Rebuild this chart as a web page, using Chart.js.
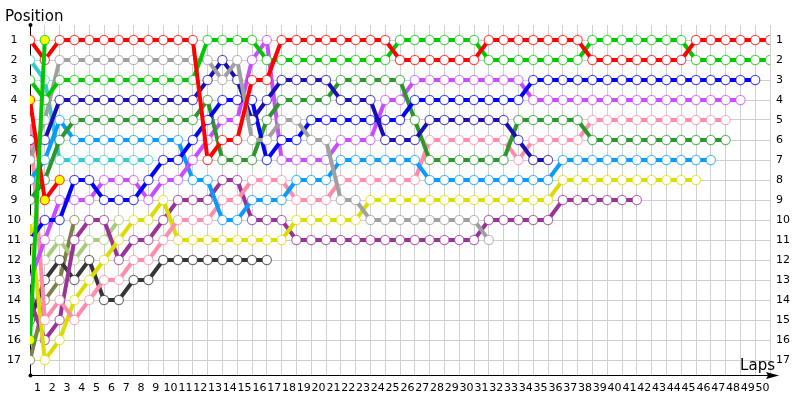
<!DOCTYPE html>
<html>
<head>
<meta charset="utf-8">
<script src="https://cdn.jsdelivr.net/npm/chart.js@4/dist/chart.umd.min.js"></script>
<style>
  html, body { margin:0; padding:0; background:#fff; }
  #wrap { width:800px; height:400px; }
</style>
</head>
<body>
<div id="wrap"><canvas id="chartLaps"></canvas></div>
<script>
const LAPS = [0,1,2,3,4,5,6,7,8,9,10,11,12,13,14,15,16,17,18,19,20,21,22,23,24,25,
  26,27,28,29,30,31,32,33,34,35,36,37,38,39,40,41,42,43,44,45,46,47,48,49,50]
const LAP_TICKS = ['1','2','3','4','5','6','7','8','9','10','11','12','13','14','15','16','17',
  '18','19','20','21','22','23','24','25','26','27','28','29','30','31','32','33','34','35','36',
  '37','38','39','40','41','42','43','44','45','46','47','48','49','50']
const POSITIONS = [1,2,3,4,5,6,7,8,9,10,11,12,13,14,15,16,17]

// position per lap (lap 0 = grid), cut off when the car retires
const RED     = [1,2,1,1,1,1,1,1,1,1, 1,1,7,6,6,3,3,1,1,1, 1,1,1,1,1,2,2,2,2,2, 2,1,1,1,1,1,1,1,2,2, 2,2,2,2,2,1,1,1,1,1, 1]
const GREEN   = [3,4,3,3,3,3,3,3,3,3, 3,3,1,1,1,1,2,2,2,2, 2,2,2,2,2,1,1,1,1,1, 1,2,2,2,2,2,2,2,1,1, 1,1,1,1,1,2,2,2,2,2, 2]
const GRAY    = [7,5,2,2,2,2,2,2,2,2, 2,2,2,3,2,6,6,5,5,6, 6,9,9,10,10,10,10,10,10,10, 10,11]
const NAVY    = [6,6,4,4,4,4,4,4,4,4, 4,4,3,2,3,5,4,3,3,3, 3,4,4,4,6,6,6,5,5,5, 5,5,5,6,7,7]
const DKGREEN = [9,8,6,5,5,5,5,5,5,5, 5,5,4,7,7,7,5,4,4,4, 4,3,3,3,3,3,5,7,7,7, 7,7,7,5,5,5,5,5,6,6, 6,6,6,6,6,6,6,6]
const AZURE   = [8,7,5,6,6,6,6,6,6,6, 6,8,8,10,10,9,9,9,8,8, 8,7,7,7,7,7,7,8,8,8, 8,8,8,8,8,8,7,7,7,7, 7,7,7,7,7,7,7]
const TEAL    = [2,3,7,7,7,7,7,7,7]
const BLUE    = [11,10,10,8,8,9,9,9,8,7, 7,6,5,4,4,4,7,6,6,5, 5,5,5,5,5,5,4,4,4,4, 4,4,4,4,3,3,3,3,3,3, 3,3,3,3,3,3,3,3,3,3]
const VIOLET  = [13,11,9,9,9,8,8,8,9,8, 8,7,6,5,5,2,1,7,7,7, 7,6,6,6,4,4,3,3,3,3, 3,3,3,3,4,4,4,4,4,4, 4,4,4,4,4,4,4,4,4]
const YELLOW  = [10,17,16,14,13,12,11,10,10,9, 11,11,11,11,11,11,11,11,10,10, 10,10,10,9,9,9,9,9,9,9, 9,9,9,9,9,9,8,8,8,8, 8,8,8,8,8,8]
const PURPLE  = [14,16,15,11,10,10,12,11,11,10, 9,9,9,8,8,10,10,10,11,11, 11,11,11,11,11,11,11,11,11,11, 11,10,10,10,10,10,9,9,9,9, 9,9]
const PINK    = [5,15,14,15,14,13,13,12,12,11, 10,10,10,9,9,8,8,8,9,9, 9,8,8,8,8,8,8,6,6,6, 6,6,6,7,6,6,6,6,5,5, 5,5,5,5,5,5,5,5]
const LTGREEN = [12,12,11,12,11,11,10]
const DKGRAY  = [15,13,12,13,12,14,14,13,13,12, 12,12,12,12,12,12,12]
const OLIVE   = [17,14,13,10]
const RED2    = [4,9,8]
const GREEN2  = [16,1]

// laps where the marker is filled yellow
const YELLOW_MARKS = { red2:[0,1,2], green2:[0,1] }

const FONT = '"DejaVu Sans", Verdana, sans-serif'

const DRIVERS = [
  { key:'green2',  data:GREEN2,  color:'#00c800' },
  { key:'red2',    data:RED2,    color:'#ff0000' },
  { key:'red',     data:RED,     color:'#ff0000' },
  { key:'green',   data:GREEN,   color:'#00c800' },
  { key:'gray',    data:GRAY,    color:'#a0a0a0' },
  { key:'navy',    data:NAVY,    color:'#1a0fb4' },
  { key:'blue',    data:BLUE,    color:'#0000ff' },
  { key:'dkgreen', data:DKGREEN, color:'#2a982a' },
  { key:'violet',  data:VIOLET,  color:'#c94cff' },
  { key:'azure',   data:AZURE,   color:'#0a9bff' },
  { key:'teal',    data:TEAL,    color:'#33cccc' },
  { key:'pink',    data:PINK,    color:'#ff8caa' },
  { key:'yellow',  data:YELLOW,  color:'#dcdc00' },
  { key:'purple',  data:PURPLE,  color:'#993399' },
  { key:'ltgreen', data:LTGREEN, color:'#a8cc78' },
  { key:'dkgray',  data:DKGRAY,  color:'#363636' },
  { key:'olive',   data:OLIVE,   color:'#80804c' },
]

const datasets = DRIVERS.map(d => ({
  label: d.key,
  data: d.data.map((p, i) => ({ x: LAPS[i], y: p })),
  borderColor: d.color,
  borderWidth: 4,
  pointRadius: 4.6,
  pointBorderWidth: 1.2,
  pointBorderColor: d.color + 'b0',
  pointBackgroundColor: ctx => (YELLOW_MARKS[d.key] || []).includes(ctx.dataIndex) ? '#ffff00' : '#ffffff',
  tension: 0,
}))

const decor = {
  id: 'decor',
  beforeDatasetsDraw(chart) {
    const { ctx, chartArea: a } = chart
    ctx.save()
    ctx.strokeStyle = '#000'; ctx.fillStyle = '#000'; ctx.lineWidth = 1
    ctx.beginPath()
    ctx.moveTo(a.left + 0.5, a.top); ctx.lineTo(a.left + 0.5, a.bottom)
    ctx.moveTo(a.left, a.bottom + 0.5); ctx.lineTo(a.right + 2, a.bottom + 0.5)
    ctx.stroke()
    ctx.beginPath(); ctx.arc(a.left + 0.5, a.top, 2, 0, Math.PI * 2); ctx.fill()
    ctx.beginPath(); ctx.arc(a.left + 0.5, a.bottom + 0.5, 2, 0, Math.PI * 2); ctx.fill()
    ctx.beginPath()
    ctx.moveTo(a.right + 9, a.bottom + 0.5)
    ctx.lineTo(a.right - 4, a.bottom - 3)
    ctx.lineTo(a.right - 2, a.bottom + 0.5)
    ctx.lineTo(a.right - 4, a.bottom + 4)
    ctx.closePath(); ctx.fill()
    ctx.restore()
  },
  afterDraw(chart) {
    const { ctx, chartArea: a } = chart
    ctx.save()
    ctx.fillStyle = '#000'
    ctx.font = '15px ' + FONT
    ctx.textBaseline = 'alphabetic'
    ctx.textAlign = 'left'
    ctx.fillText('Position', 5, 21)
    ctx.textAlign = 'right'
    ctx.fillText('Laps', a.right + 5, a.bottom - 5)
    ctx.restore()
  }
}

const tickFont = { family: FONT, size: 11 }

new Chart(document.getElementById('chartLaps'), {
  type: 'line',
  data: { datasets },
  plugins: [decor],
  options: {
    responsive: true, maintainAspectRatio: false, animation: false,
    events: [],
    layout: { padding: { top: 25, left: 0, right: 0, bottom: 0 } },
    plugins: { legend: { display: false }, tooltip: { enabled: false } },
    scales: {
      x: {
        type: 'linear', position: 'bottom', min: 0, max: 50,
        afterBuildTicks: s => { s.ticks = LAPS.map(v => ({ value: v })) },
        afterFit: s => { s.height = 0 },
        ticks: { display: false },
        grid: { color: '#d0d0d0', drawTicks: false },
        border: { display: false },
      },
      xl: {
        type: 'category', position: 'bottom', labels: LAP_TICKS, offset: true,
        afterFit: s => { s.height = 25 },
        ticks: { autoSkip: false, maxRotation: 0, padding: 7, color: '#000', font: tickFont },
        grid: { display: false, drawTicks: false },
        border: { display: false },
      },
      y: {
        type: 'linear', position: 'left', reverse: true, min: 0.25, max: 17.75,
        afterBuildTicks: s => { s.ticks = POSITIONS.map(v => ({ value: v })) },
        afterFit: s => { s.width = 30 },
        ticks: { crossAlign: 'center', padding: 9, color: '#000', font: tickFont },
        grid: { color: '#d0d0d0', drawTicks: false },
        border: { display: false },
      },
      y2: {
        type: 'linear', position: 'right', reverse: true, min: 0.25, max: 17.75,
        afterBuildTicks: s => { s.ticks = POSITIONS.map(v => ({ value: v })) },
        afterFit: s => { s.width = 30 },
        ticks: { padding: 6, color: '#000', font: tickFont },
        grid: { display: false, drawTicks: false },
        border: { display: false },
      },
    }
  }
})
</script>
</body>
</html>
